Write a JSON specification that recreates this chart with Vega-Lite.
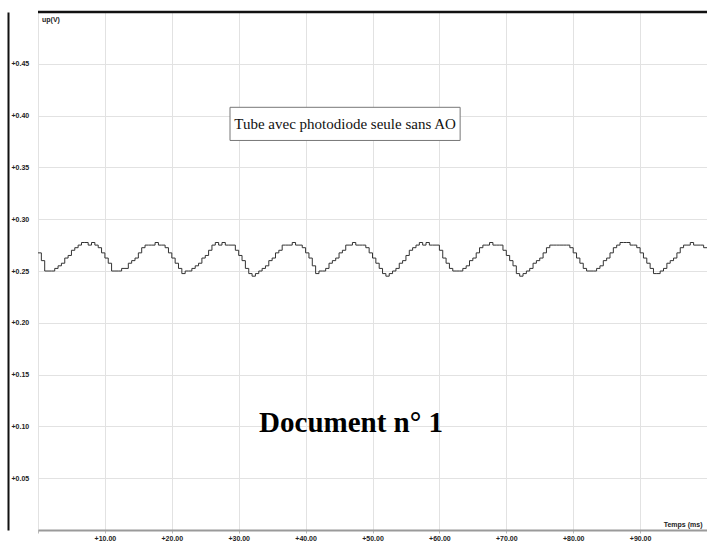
{
  "$schema": "https://vega.github.io/schema/vega-lite/v6.json",
  "width": 669,
  "height": 518,
  "autosize": "none",
  "padding": {"left": 38, "top": 12, "right": 0, "bottom": 12},
  "background": "white",
  "config": {
    "view": {"stroke": "#8a8a8a", "strokeWidth": 1},
    "axis": {"gridColor": "#e2e2e2", "gridWidth": 1, "labelFont": "Liberation Sans", "labelFontSize": 7, "labelFontWeight": "bold", "labelColor": "#222"}
  },
  "datasets": {
    "signal": [
      {"t":0,"u":0.2675},{"t":0.5,"u":0.26},
      {"t":1,"u":0.25},{"t":1.5,"u":0.25},{"t":2,"u":0.25},{"t":2.5,"u":0.2525},{"t":3,"u":0.255},{"t":3.5,"u":0.2575},{"t":4,"u":0.2625},{"t":4.5,"u":0.265},{"t":5,"u":0.27},{"t":5.5,"u":0.2725},{"t":6,"u":0.275},{"t":6.5,"u":0.2775},{"t":7,"u":0.2775},{"t":7.5,"u":0.275},{"t":8,"u":0.2775},{"t":8.5,"u":0.275},{"t":9,"u":0.2725},{"t":9.5,"u":0.2675},{"t":10,"u":0.2625},{"t":10.5,"u":0.2575},
      {"t":11,"u":0.25},{"t":11.5,"u":0.25},{"t":12,"u":0.25},{"t":12.5,"u":0.2525},{"t":13,"u":0.2525},{"t":13.5,"u":0.2575},{"t":14,"u":0.26},{"t":14.5,"u":0.2625},{"t":15,"u":0.2675},{"t":15.5,"u":0.2725},{"t":16,"u":0.275},{"t":16.5,"u":0.275},{"t":17,"u":0.275},{"t":17.5,"u":0.2775},{"t":18,"u":0.275},{"t":18.5,"u":0.275},{"t":19,"u":0.2725},{"t":19.5,"u":0.2675},{"t":20,"u":0.2625},{"t":20.5,"u":0.2575},{"t":21,"u":0.2525},
      {"t":21.5,"u":0.2475},{"t":22,"u":0.25},{"t":22.5,"u":0.25},{"t":23,"u":0.2525},{"t":23.5,"u":0.255},{"t":24,"u":0.2575},{"t":24.5,"u":0.2625},{"t":25,"u":0.265},{"t":25.5,"u":0.27},{"t":26,"u":0.275},{"t":26.5,"u":0.2775},{"t":27,"u":0.275},{"t":27.5,"u":0.2775},{"t":28,"u":0.275},{"t":28.5,"u":0.275},{"t":29,"u":0.275},{"t":29.5,"u":0.27},{"t":30,"u":0.265},{"t":30.5,"u":0.26},{"t":31,"u":0.2525},
      {"t":31.5,"u":0.2475},{"t":32,"u":0.245},{"t":32.5,"u":0.2475},{"t":33,"u":0.25},{"t":33.5,"u":0.2525},{"t":34,"u":0.255},{"t":34.5,"u":0.26},{"t":35,"u":0.2625},{"t":35.5,"u":0.2675},{"t":36,"u":0.27},{"t":36.5,"u":0.275},{"t":37,"u":0.275},{"t":37.5,"u":0.275},{"t":38,"u":0.2775},{"t":38.5,"u":0.275},{"t":39,"u":0.275},{"t":39.5,"u":0.2725},{"t":40,"u":0.2675},{"t":40.5,"u":0.2625},{"t":41,"u":0.255},
      {"t":41.5,"u":0.2475},{"t":42,"u":0.25},{"t":42.5,"u":0.25},{"t":43,"u":0.2525},{"t":43.5,"u":0.2575},{"t":44,"u":0.26},{"t":44.5,"u":0.2625},{"t":45,"u":0.2675},{"t":45.5,"u":0.27},{"t":46,"u":0.275},{"t":46.5,"u":0.275},{"t":47,"u":0.2775},{"t":47.5,"u":0.275},{"t":48,"u":0.275},{"t":48.5,"u":0.275},{"t":49,"u":0.2725},{"t":49.5,"u":0.2675},{"t":50,"u":0.2625},{"t":50.5,"u":0.2575},{"t":51,"u":0.2525},
      {"t":51.5,"u":0.2475},{"t":52,"u":0.245},{"t":52.5,"u":0.2475},{"t":53,"u":0.25},{"t":53.5,"u":0.2525},{"t":54,"u":0.2575},{"t":54.5,"u":0.26},{"t":55,"u":0.265},{"t":55.5,"u":0.27},{"t":56,"u":0.2725},{"t":56.5,"u":0.275},{"t":57,"u":0.2775},{"t":57.5,"u":0.275},{"t":58,"u":0.2775},{"t":58.5,"u":0.275},{"t":59,"u":0.275},{"t":59.5,"u":0.275},{"t":60,"u":0.27},{"t":60.5,"u":0.2625},{"t":61,"u":0.2575},{"t":61.5,"u":0.2525},
      {"t":62,"u":0.25},{"t":62.5,"u":0.25},{"t":63,"u":0.25},{"t":63.5,"u":0.2525},{"t":64,"u":0.255},{"t":64.5,"u":0.26},{"t":65,"u":0.2625},{"t":65.5,"u":0.2675},{"t":66,"u":0.2725},{"t":66.5,"u":0.275},{"t":67,"u":0.275},{"t":67.5,"u":0.2775},{"t":68,"u":0.275},{"t":68.5,"u":0.275},{"t":69,"u":0.275},{"t":69.5,"u":0.27},{"t":70,"u":0.265},{"t":70.5,"u":0.26},{"t":71,"u":0.255},{"t":71.5,"u":0.2475},
      {"t":72,"u":0.245},{"t":72.5,"u":0.2475},{"t":73,"u":0.25},{"t":73.5,"u":0.2525},{"t":74,"u":0.2575},{"t":74.5,"u":0.26},{"t":75,"u":0.2625},{"t":75.5,"u":0.2675},{"t":76,"u":0.2725},{"t":76.5,"u":0.275},{"t":77,"u":0.275},{"t":77.5,"u":0.275},{"t":78,"u":0.275},{"t":78.5,"u":0.275},{"t":79,"u":0.275},{"t":79.5,"u":0.2725},{"t":80,"u":0.2675},{"t":80.5,"u":0.2625},{"t":81,"u":0.2575},{"t":81.5,"u":0.2525},
      {"t":82,"u":0.25},{"t":82.5,"u":0.25},{"t":83,"u":0.25},{"t":83.5,"u":0.2525},{"t":84,"u":0.255},{"t":84.5,"u":0.26},{"t":85,"u":0.2625},{"t":85.5,"u":0.2675},{"t":86,"u":0.2725},{"t":86.5,"u":0.275},{"t":87,"u":0.2775},{"t":87.5,"u":0.2775},{"t":88,"u":0.2775},{"t":88.5,"u":0.275},{"t":89,"u":0.275},{"t":89.5,"u":0.2725},{"t":90,"u":0.2675},{"t":90.5,"u":0.2625},{"t":91,"u":0.2575},{"t":91.5,"u":0.2525},
      {"t":92,"u":0.2475},{"t":92.5,"u":0.2475},{"t":93,"u":0.25},{"t":93.5,"u":0.2525},{"t":94,"u":0.2575},{"t":94.5,"u":0.26},{"t":95,"u":0.2625},{"t":95.5,"u":0.2675},{"t":96,"u":0.2725},{"t":96.5,"u":0.275},{"t":97,"u":0.275},{"t":97.5,"u":0.2775},{"t":98,"u":0.275},{"t":98.5,"u":0.275},{"t":99,"u":0.275},{"t":99.5,"u":0.2725},{"t":100,"u":0.2725}
    ],
    "box": [{"x1": 28.7, "x2": 63.1, "y1": 0.376, "y2": 0.408}],
    "frame": [{"top": 0.5}],
    "labels": [
      {"t": 45.9, "u": 0.392, "label": "Tube avec photodiode seule sans AO", "kind": "box"},
      {"t": 46.8, "u": 0.103, "label": "Document n° 1", "kind": "doc"},
      {"t": 0.6, "u": 0.492, "label": "up(V)", "kind": "unit"}
    ]
  },
  "layer": [
    {
      "data": {"name": "signal"},
      "mark": {"type": "line", "interpolate": "step-after", "color": "#333", "strokeWidth": 1},
      "encoding": {
        "x": {"field": "t", "type": "quantitative", "scale": {"domain": [0, 100], "nice": false, "zero": false},
          "axis": {"values": [0,10,20,30,40,50,60,70,80,90,100], "labelExpr": "datum.value > 0 && datum.value < 100 ? '+' + format(datum.value, '.2f') : ''",
            "domainColor": "#9a9a9a", "domainWidth": 2, "tickColor": "#bbb", "tickSize": 3, "labelPadding": 1,
            "title": "Temps (ms)", "titleFont": "Liberation Sans", "titleFontSize": 7, "titleFontWeight": "bold", "titleColor": "#222",
            "titleAnchor": "end", "titleAlign": "right", "titleBaseline": "bottom", "titleX": 664, "titleY": -3}},
        "y": {"field": "u", "type": "quantitative", "scale": {"domain": [0, 0.5], "nice": false, "zero": false},
          "axis": {"values": [0,0.05,0.1,0.15,0.2,0.25,0.3,0.35,0.4,0.45,0.5], "labelExpr": "datum.value > 0.01 && datum.value < 0.49 ? '+' + format(datum.value, '.2f') : ''",
            "offset": 30, "domainColor": "#111", "domainWidth": 2, "ticks": false, "labelAlign": "left", "labelPadding": -3, "labelBaseline": "middle",
            "title": null}}
      }
    },
    {
      "data": {"name": "frame"},
      "mark": {"type": "rule", "color": "#111", "strokeWidth": 2.5, "clip": false},
      "encoding": {"y": {"field": "top", "type": "quantitative"}}
    },
    {
      "data": {"name": "box"},
      "mark": {"type": "rect", "fill": "white", "stroke": "#777", "strokeWidth": 1},
      "encoding": {
        "x": {"field": "x1", "type": "quantitative"}, "x2": {"field": "x2"},
        "y": {"field": "y1", "type": "quantitative"}, "y2": {"field": "y2"}
      }
    },
    {
      "data": {"name": "labels"},
      "transform": [{"filter": "datum.kind == 'box'"}],
      "mark": {"type": "text", "font": "Liberation Serif", "fontSize": 15, "color": "#111", "align": "center", "baseline": "middle"},
      "encoding": {"x": {"field": "t", "type": "quantitative"}, "y": {"field": "u", "type": "quantitative"}, "text": {"field": "label"}}
    },
    {
      "data": {"name": "labels"},
      "transform": [{"filter": "datum.kind == 'doc'"}],
      "mark": {"type": "text", "font": "Liberation Serif", "fontSize": 29, "fontWeight": "bold", "color": "#000", "align": "center", "baseline": "middle"},
      "encoding": {"x": {"field": "t", "type": "quantitative"}, "y": {"field": "u", "type": "quantitative"}, "text": {"field": "label"}}
    },
    {
      "data": {"name": "labels"},
      "transform": [{"filter": "datum.kind == 'unit'"}],
      "mark": {"type": "text", "font": "Liberation Sans", "fontSize": 7, "fontWeight": "bold", "color": "#222", "align": "left", "baseline": "middle"},
      "encoding": {"x": {"field": "t", "type": "quantitative"}, "y": {"field": "u", "type": "quantitative"}, "text": {"field": "label"}}
    }
  ]
}
